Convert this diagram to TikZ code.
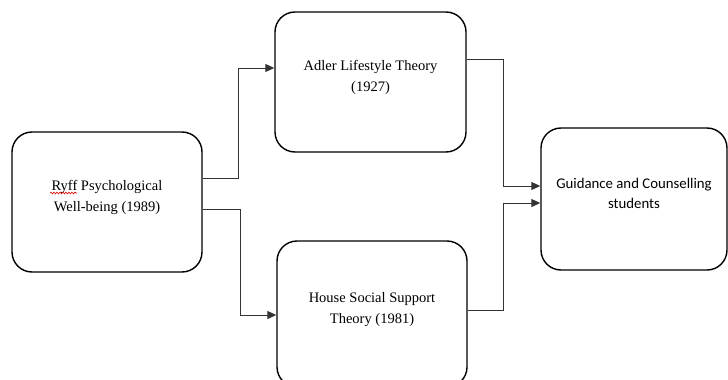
\documentclass[tikz,border=0pt]{standalone}
\usepackage{fontspec}
\setmainfont{Liberation Serif}
\newfontfamily\calibri{Carlito}
\usetikzlibrary{arrows.meta, positioning, decorations.pathmorphing}

\tikzset{
    theorybox/.style={draw, line width=1.4pt, rounded corners=20pt,
        minimum width=190pt, minimum height=140pt, align=center,
        text depth=12pt, font=\fontsize{14.5}{21}\selectfont},
    link/.style={draw=black!80, line width=0.9pt,
        -{Triangle[length=9pt,width=8pt]}}
}

\begin{document}
\begin{tikzpicture}[x=1pt, y=1pt]
        \useasboundingbox (0,0) rectangle (728,-380);
        \node[theorybox] (ryff) at (107,-202) {Ryff Psychological\\Well-being (1989)};
        \node[theorybox, minimum width=191pt] (adler) at (370.5,-82) {Adler Lifestyle Theory\\(1927)};
        \node[theorybox, minimum height=146pt] (house) at (372,-314) {House Social Support\\Theory (1981)};
        \node[theorybox, minimum width=186pt, minimum height=142pt,
            font=\calibri\fontsize{14.8}{20}\selectfont] (gc) at (634,-199) {Guidance and Counselling\\students};
        % spell-check mark under Ryff
        \draw[red!85!black, line width=0.6pt, decorate,
            decoration={snake, amplitude=0.9pt, segment length=3pt}]
            ([xshift=-57pt, yshift=9pt]ryff.center) -- ++(27pt,0);
        \draw[link] ([yshift=24pt]ryff.east) -- ++(36pt,0) |- ([yshift=14pt]adler.west);
        \draw[link] ([yshift=-7pt]ryff.east) -- ++(38pt,0) |- ([yshift=-1pt]house.west);
        \draw[link] ([yshift=23pt]adler.east) -- ++(37pt,0) |- ([yshift=13pt]gc.west);
        \draw[link] ([yshift=4pt]house.east) -- ++(36pt,0) |- ([yshift=-4pt]gc.west);
    \end{tikzpicture}
\end{document}
